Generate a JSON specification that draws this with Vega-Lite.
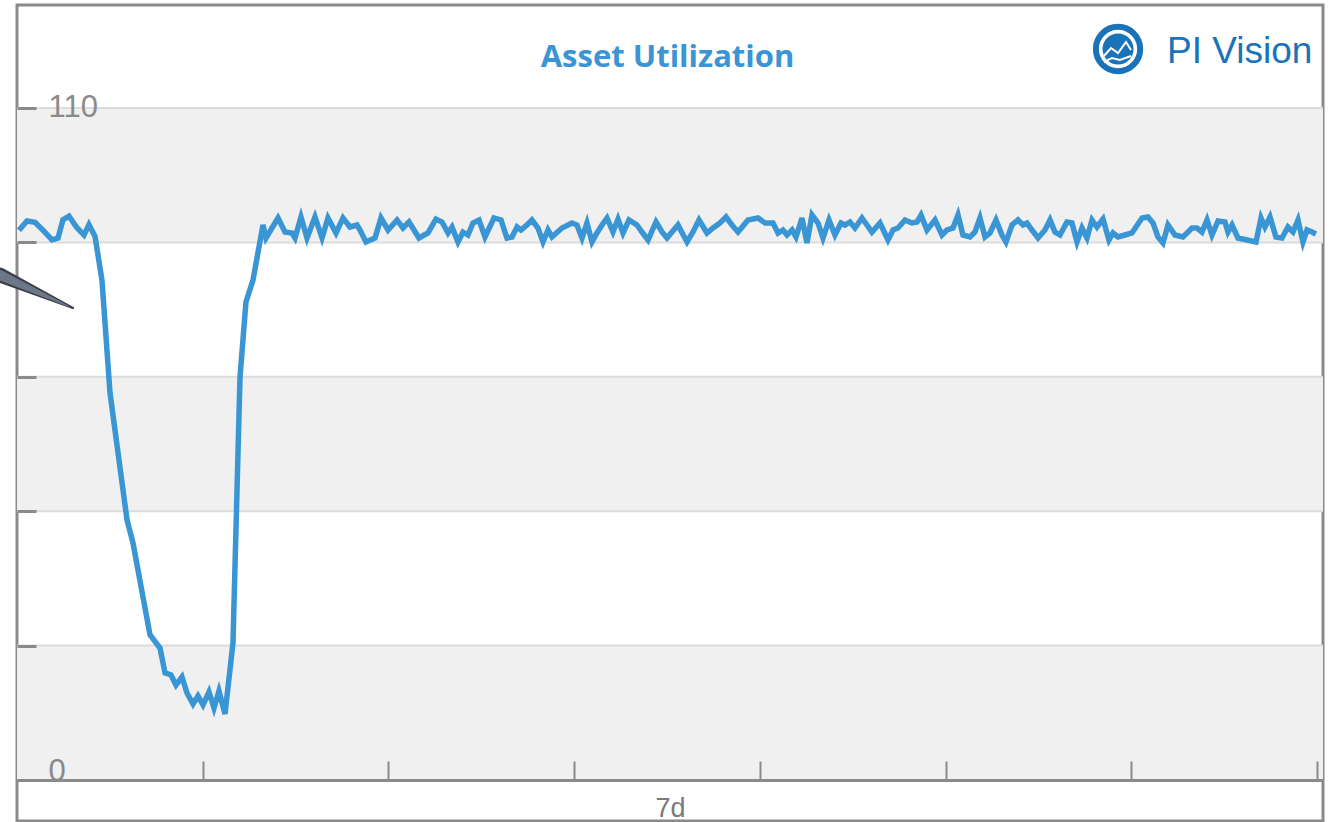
{
  "$schema": "https://vega.github.io/schema/vega-lite/v6.json",
  "autosize": {"type": "none"},
  "padding": {"left": 17, "top": 5, "right": 7, "bottom": 1},
  "width": 1306,
  "height": 816,
  "background": "white",
  "config": {"view": {"stroke": "#8a8a8a", "strokeWidth": 3}},
  "datasets": {
    "bands": [
      {"t": 0, "t2": 168.78, "v": 0, "v2": 22},
      {"t": 0, "t2": 168.78, "v": 44, "v2": 66},
      {"t": 0, "t2": 168.78, "v": 88, "v2": 110}
    ],
    "grid": [
      {"t": 0, "t2": 168.78, "v": 22},
      {"t": 0, "t2": 168.78, "v": 44},
      {"t": 0, "t2": 168.78, "v": 66},
      {"t": 0, "t2": 168.78, "v": 88},
      {"t": 0, "t2": 168.78, "v": 110}
    ],
    "series": [
      {"t": 0.26, "v": 90.0}, {"t": 1.29, "v": 91.5}, {"t": 2.33, "v": 91.3}, {"t": 3.36, "v": 90.0},
      {"t": 4.52, "v": 88.4}, {"t": 5.30, "v": 88.7}, {"t": 5.94, "v": 91.7}, {"t": 6.72, "v": 92.3},
      {"t": 7.75, "v": 90.4}, {"t": 8.66, "v": 89.2}, {"t": 9.30, "v": 90.9}, {"t": 10.08, "v": 89.0},
      {"t": 10.98, "v": 81.85}, {"t": 12.02, "v": 63.35}, {"t": 14.22, "v": 42.56}, {"t": 14.99, "v": 38.8},
      {"t": 16.28, "v": 29.96}, {"t": 17.19, "v": 23.74}, {"t": 18.48, "v": 21.61}, {"t": 19.13, "v": 17.52},
      {"t": 19.90, "v": 17.19}, {"t": 20.55, "v": 15.55}, {"t": 21.32, "v": 16.86}, {"t": 21.97, "v": 14.24},
      {"t": 22.75, "v": 12.44}, {"t": 23.39, "v": 13.75}, {"t": 24.04, "v": 12.28}, {"t": 24.81, "v": 14.41},
      {"t": 25.46, "v": 11.79}, {"t": 26.10, "v": 14.57}, {"t": 26.88, "v": 10.8}, {"t": 27.91, "v": 22.43},
      {"t": 28.82, "v": 65.97}, {"t": 29.59, "v": 78.24}, {"t": 30.50, "v": 81.85}, {"t": 31.79, "v": 90.85},
      {"t": 32.18, "v": 88.72}, {"t": 32.95, "v": 90.36}, {"t": 33.73, "v": 92.0}, {"t": 34.63, "v": 89.7},
      {"t": 35.54, "v": 89.54}, {"t": 35.93, "v": 88.72}, {"t": 36.70, "v": 92.16}, {"t": 37.48, "v": 88.72},
      {"t": 38.51, "v": 92.16}, {"t": 39.42, "v": 88.72}, {"t": 40.19, "v": 92.0}, {"t": 41.23, "v": 89.54},
      {"t": 42.13, "v": 92.0}, {"t": 43.03, "v": 90.52}, {"t": 43.94, "v": 90.85}, {"t": 44.33, "v": 90.03},
      {"t": 45.10, "v": 88.07}, {"t": 46.27, "v": 88.72}, {"t": 47.04, "v": 92.0}, {"t": 47.95, "v": 90.03},
      {"t": 49.11, "v": 91.67}, {"t": 49.88, "v": 90.36}, {"t": 50.66, "v": 91.34}, {"t": 51.95, "v": 88.72},
      {"t": 53.11, "v": 89.54}, {"t": 54.15, "v": 91.83}, {"t": 54.92, "v": 91.34}, {"t": 55.70, "v": 89.54},
      {"t": 56.22, "v": 90.52}, {"t": 56.99, "v": 88.07}, {"t": 57.64, "v": 89.7}, {"t": 58.28, "v": 89.21},
      {"t": 58.93, "v": 91.18}, {"t": 59.71, "v": 91.67}, {"t": 60.48, "v": 88.89}, {"t": 61.64, "v": 92.0},
      {"t": 62.55, "v": 91.67}, {"t": 63.32, "v": 88.72}, {"t": 63.97, "v": 88.89}, {"t": 64.62, "v": 90.52},
      {"t": 65.13, "v": 90.03}, {"t": 65.91, "v": 90.85}, {"t": 66.55, "v": 91.67}, {"t": 67.33, "v": 90.36},
      {"t": 67.98, "v": 88.07}, {"t": 68.62, "v": 90.03}, {"t": 69.14, "v": 88.89}, {"t": 70.43, "v": 90.36},
      {"t": 71.72, "v": 91.18}, {"t": 72.37, "v": 90.85}, {"t": 73.02, "v": 88.72}, {"t": 73.66, "v": 91.18},
      {"t": 74.31, "v": 88.07}, {"t": 74.95, "v": 89.54}, {"t": 75.60, "v": 90.85}, {"t": 76.25, "v": 92.0},
      {"t": 77.02, "v": 89.7}, {"t": 77.67, "v": 91.83}, {"t": 78.32, "v": 89.54}, {"t": 79.09, "v": 91.67},
      {"t": 80.12, "v": 90.85}, {"t": 80.77, "v": 89.7}, {"t": 81.55, "v": 88.39}, {"t": 82.58, "v": 91.34},
      {"t": 83.36, "v": 89.7}, {"t": 84.00, "v": 88.72}, {"t": 84.65, "v": 89.7}, {"t": 85.42, "v": 90.85},
      {"t": 86.59, "v": 88.07}, {"t": 87.36, "v": 89.7}, {"t": 88.14, "v": 91.67}, {"t": 89.17, "v": 89.54},
      {"t": 89.95, "v": 90.36}, {"t": 90.85, "v": 91.18}, {"t": 91.63, "v": 92.16}, {"t": 92.40, "v": 90.85},
      {"t": 93.18, "v": 89.7}, {"t": 94.47, "v": 91.67}, {"t": 95.76, "v": 92.0}, {"t": 96.67, "v": 91.18},
      {"t": 97.70, "v": 91.18}, {"t": 98.35, "v": 89.54}, {"t": 98.99, "v": 90.03}, {"t": 99.51, "v": 89.21},
      {"t": 100.16, "v": 90.03}, {"t": 100.67, "v": 88.89}, {"t": 101.45, "v": 92.0}, {"t": 102.09, "v": 87.9},
      {"t": 102.74, "v": 92.49}, {"t": 103.52, "v": 91.18}, {"t": 104.16, "v": 88.72}, {"t": 104.94, "v": 91.67},
      {"t": 105.71, "v": 89.21}, {"t": 106.49, "v": 91.18}, {"t": 107.00, "v": 90.85}, {"t": 107.65, "v": 91.34},
      {"t": 108.30, "v": 90.36}, {"t": 109.20, "v": 92.0}, {"t": 110.49, "v": 89.7}, {"t": 111.53, "v": 91.18},
      {"t": 112.56, "v": 88.39}, {"t": 113.21, "v": 90.03}, {"t": 113.85, "v": 90.36}, {"t": 114.76, "v": 91.67},
      {"t": 115.66, "v": 91.18}, {"t": 116.31, "v": 91.34}, {"t": 116.83, "v": 92.49}, {"t": 117.60, "v": 90.03},
      {"t": 118.64, "v": 91.67}, {"t": 119.54, "v": 89.21}, {"t": 120.19, "v": 90.03}, {"t": 120.96, "v": 90.36},
      {"t": 121.61, "v": 92.49}, {"t": 122.25, "v": 89.21}, {"t": 123.16, "v": 88.89}, {"t": 123.80, "v": 89.7},
      {"t": 124.45, "v": 92.0}, {"t": 125.10, "v": 88.89}, {"t": 125.74, "v": 89.54}, {"t": 126.52, "v": 91.67},
      {"t": 127.29, "v": 89.21}, {"t": 127.81, "v": 88.07}, {"t": 128.59, "v": 90.85}, {"t": 129.36, "v": 91.67},
      {"t": 130.01, "v": 90.85}, {"t": 130.52, "v": 91.18}, {"t": 131.17, "v": 90.03}, {"t": 131.95, "v": 88.72},
      {"t": 132.85, "v": 90.03}, {"t": 133.50, "v": 91.67}, {"t": 134.14, "v": 89.7}, {"t": 134.79, "v": 89.21},
      {"t": 135.69, "v": 91.34}, {"t": 136.34, "v": 91.18}, {"t": 136.99, "v": 88.07}, {"t": 137.63, "v": 90.36},
      {"t": 138.28, "v": 88.72}, {"t": 138.93, "v": 91.67}, {"t": 139.57, "v": 90.52}, {"t": 140.35, "v": 91.83},
      {"t": 141.12, "v": 88.39}, {"t": 141.64, "v": 89.54}, {"t": 142.29, "v": 88.89}, {"t": 143.19, "v": 89.21},
      {"t": 144.09, "v": 89.54}, {"t": 145.39, "v": 92.0}, {"t": 146.16, "v": 92.16}, {"t": 146.81, "v": 91.18},
      {"t": 147.45, "v": 88.89}, {"t": 148.10, "v": 87.9}, {"t": 148.75, "v": 90.85}, {"t": 149.65, "v": 89.21},
      {"t": 150.69, "v": 88.89}, {"t": 151.85, "v": 90.36}, {"t": 152.49, "v": 90.36}, {"t": 153.14, "v": 89.7},
      {"t": 153.79, "v": 91.67}, {"t": 154.43, "v": 89.21}, {"t": 155.21, "v": 91.5}, {"t": 156.11, "v": 91.34},
      {"t": 156.50, "v": 89.7}, {"t": 157.02, "v": 90.85}, {"t": 157.79, "v": 88.72}, {"t": 158.96, "v": 88.39},
      {"t": 160.12, "v": 88.07}, {"t": 160.77, "v": 92.0}, {"t": 161.28, "v": 90.52}, {"t": 161.93, "v": 92.16},
      {"t": 162.70, "v": 88.89}, {"t": 163.48, "v": 88.72}, {"t": 164.25, "v": 90.52}, {"t": 164.90, "v": 89.7},
      {"t": 165.55, "v": 91.67}, {"t": 166.19, "v": 88.07}, {"t": 166.71, "v": 90.03}, {"t": 167.36, "v": 89.7},
      {"t": 167.87, "v": 89.38}
    ],
    "callout": [
      {"t": -2.2, "v": 82.66, "w": 15},
      {"t": 7.24, "v": 77.26, "w": 2}
    ],
    "calloutInner": [
      {"t": -2.2, "v": 82.66, "w": 10},
      {"t": 6.6, "v": 77.6, "w": 1}
    ],
    "titleText": [{"t": 84.07, "v": 116.71, "label": "Asset Utilization"}],
    "brandText": [{"t": 148.62, "v": 117.37, "label": "PI Vision"}],
    "brandRing": [{"t": 142.29, "v": 119.66}],
    "brandMark": [
      {"grp": "a", "t": 140.48, "v": 118.51},
      {"grp": "a", "t": 141.38, "v": 119.82},
      {"grp": "a", "t": 142.29, "v": 119.0},
      {"grp": "a", "t": 143.32, "v": 120.8},
      {"grp": "a", "t": 143.97, "v": 119.49},
      {"grp": "b", "t": 140.48, "v": 117.53},
      {"grp": "b", "t": 141.51, "v": 118.19},
      {"grp": "b", "t": 142.54, "v": 117.86},
      {"grp": "b", "t": 143.97, "v": 118.51}
    ]
  },
  "encoding": {
    "x": {
      "field": "t",
      "type": "quantitative",
      "scale": {"domain": [0, 168.78], "nice": false, "zero": false},
      "axis": {
        "values": [24, 48, 72, 96, 120, 144, 168],
        "offset": -41,
        "labels": false,
        "grid": false,
        "tickSize": -19,
        "tickWidth": 2,
        "tickColor": "#8a8a8a",
        "domainColor": "#8a8a8a",
        "domainWidth": 3,
        "title": "7d",
        "titleFont": "Liberation Sans",
        "titleFontSize": 27,
        "titleFontWeight": "normal",
        "titleColor": "#7a7a7a",
        "titleY": 28,
        "titleBaseline": "middle",
        "zindex": 1
      }
    },
    "y": {
      "field": "v",
      "type": "quantitative",
      "scale": {"domain": [-6.711, 126.86], "nice": false, "zero": false},
      "axis": {
        "values": [0, 22, 44, 66, 88, 110],
        "domain": false,
        "grid": false,
        "tickSize": -19,
        "tickWidth": 3,
        "tickColor": "#8a8a8a",
        "labelExpr": "datum.value == 0 || datum.value == 110 ? datum.label : ''",
        "labelAlign": "left",
        "labelPadding": -12,
        "labelBaseline": {"condition": {"test": "datum.value == 0", "value": "alphabetic"}, "value": "middle"},
        "labelFont": "Liberation Sans",
        "labelFontSize": 31,
        "labelColor": "#8a8a8a",
        "labelFlush": false,
        "labelOverlap": false,
        "title": null,
        "zindex": 1
      }
    }
  },
  "layer": [
    {
      "data": {"name": "bands"},
      "mark": {"type": "rect", "color": "#f0f0f0"},
      "encoding": {"x2": {"field": "t2"}, "y2": {"field": "v2"}}
    },
    {
      "data": {"name": "grid"},
      "mark": {"type": "rule", "color": "#dcdcdc", "strokeWidth": 2},
      "encoding": {"x2": {"field": "t2"}}
    },
    {
      "data": {"name": "series"},
      "mark": {"type": "line", "color": "#3a95d4", "strokeWidth": 5.5},
      "encoding": {}
    },
    {
      "data": {"name": "callout"},
      "mark": {"type": "trail", "color": "#3a3f48"},
      "encoding": {"size": {"field": "w", "type": "quantitative", "scale": null}}
    },
    {
      "data": {"name": "calloutInner"},
      "mark": {"type": "trail", "color": "#6c7788"},
      "encoding": {"size": {"field": "w", "type": "quantitative", "scale": null}}
    },
    {
      "data": {"name": "titleText"},
      "mark": {"type": "text", "align": "center", "baseline": "alphabetic", "font": "Open Sans", "fontWeight": "bold", "fontSize": 31, "color": "#3b94d3"},
      "encoding": {"text": {"field": "label"}}
    },
    {
      "data": {"name": "brandText"},
      "mark": {"type": "text", "align": "left", "baseline": "alphabetic", "font": "Liberation Sans", "fontSize": 37, "color": "#1a72b8"},
      "encoding": {"text": {"field": "label"}}
    },
    {
      "data": {"name": "brandRing"},
      "mark": {"type": "point", "shape": "circle", "filled": false, "stroke": "#1a72b8", "strokeWidth": 6, "size": 1963, "opacity": 1},
      "encoding": {}
    },
    {
      "data": {"name": "brandRing"},
      "mark": {"type": "point", "shape": "circle", "filled": true, "color": "#1a72b8", "size": 962, "opacity": 1},
      "encoding": {}
    },
    {
      "data": {"name": "brandMark"},
      "mark": {"type": "line", "color": "white", "strokeWidth": 2},
      "encoding": {"detail": {"field": "grp"}}
    }
  ]
}
